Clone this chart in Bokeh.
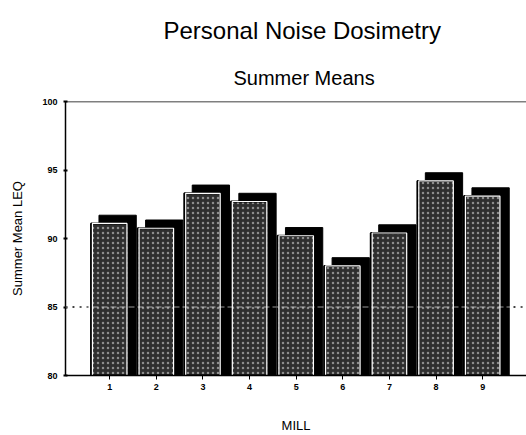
from bokeh.plotting import figure
from bokeh.models import Range1d, FixedTicker, Span, Title, ColumnDataSource
from bokeh.transform import dodge
from bokeh.embed import file_html
from bokeh.resources import INLINE

# ---- data ----
mills = [1, 2, 3, 4, 5, 6, 7, 8, 9]
mill_labels = ["1", "2", "3", "4", "5", "6", "7", "8", "9"]
summer_mean_leq = [91.1, 90.75, 93.3, 92.7, 90.2, 88.0, 90.4, 94.2, 93.1]
y_ticks = [80, 85, 90, 95, 100]
reference_level = 85

depth = 0.6  # 3-D shadow depth (in LEQ units)
src = ColumnDataSource(dict(
    x=mills,
    top=summer_mean_leq,
    shadow_top=[v + depth for v in summer_mean_leq],
))

FONT = "Liberation Sans"

p = figure(width=526, height=435, output_backend="svg", toolbar_location=None,
           x_range=Range1d(0.052, 9.94), y_range=Range1d(80, 100),
           min_border_left=65, min_border_right=0, min_border_top=101,
           min_border_bottom=59, title=None)
p.outline_line_color = None
p.xgrid.visible = False
p.ygrid.visible = False
p.background_fill_color = "white"
p.border_fill_color = "white"

# dotted reference line at 85
p.add_layout(Span(location=reference_level, dimension="width", line_color="black",
                  line_dash="2 5", line_width=1.5, level="underlay"))

# shadow (3-D depth)
p.vbar(x=dodge("x", 0.17, range=p.x_range), top="shadow_top", bottom=80, width=0.8,
       source=src, fill_color="black", line_color="black", line_width=1)
# front face
p.vbar(x="x", top="top", bottom=80, width=0.8, source=src,
       fill_color="#2e2e2e", line_color="black", line_width=2,
       hatch_pattern=".", hatch_color="white", hatch_alpha=0.45,
       hatch_scale=5, hatch_weight=1)
p.vbar(x="x", top="top", bottom=80, width=0.74, source=src,
       fill_color=None, line_color="white", line_width=1.2)

# faint white level line across the bars
p.add_layout(Span(location=reference_level, dimension="width", line_color="white",
                  line_dash="6 3", line_width=1, line_alpha=0.6, level="overlay"))
# top border line
p.add_layout(Span(location=100, dimension="width", line_color="black",
                  line_width=1.5, level="overlay"))

# axes
p.xaxis.ticker = FixedTicker(ticks=mills)
p.xaxis.major_label_overrides = {m: l for m, l in zip(mills, mill_labels)}
p.yaxis.ticker = FixedTicker(ticks=y_ticks)
for ax in (p.xaxis[0], p.yaxis[0]):
    ax.axis_line_width = 1.5
    ax.minor_tick_line_color = None
    ax.major_label_text_font = FONT
    ax.major_label_text_font_size = "9px"
    ax.major_label_text_font_style = "bold"
    ax.major_label_text_color = "black"
    ax.axis_label_text_font = FONT
    ax.axis_label_text_font_size = "13px"
    ax.axis_label_text_font_style = "normal"
    ax.axis_label_text_color = "black"
p.xaxis.major_tick_out = 4
p.xaxis.major_tick_in = 0
p.xaxis.major_label_standoff = 4
p.xaxis.axis_label = "MILL"
p.xaxis.axis_label_standoff = 25
p.yaxis.major_tick_out = 2
p.yaxis.major_tick_in = 2
p.yaxis.major_tick_line_width = 2
p.yaxis.major_label_standoff = 6
p.yaxis.axis_label = "Summer Mean LEQ"
p.yaxis.axis_label_standoff = 14

# titles
p.add_layout(Title(text="Summer Means", align="left", text_font=FONT,
                   text_font_size="20px", text_font_style="normal",
                   text_color="black", standoff=25, offset=168), "above")
p.add_layout(Title(text="Personal Noise Dosimetry", align="left", text_font=FONT,
                   text_font_size="24px", text_font_style="normal",
                   text_color="black", standoff=18, offset=98), "above")

open("out.html", "w").write(file_html(p, INLINE))
